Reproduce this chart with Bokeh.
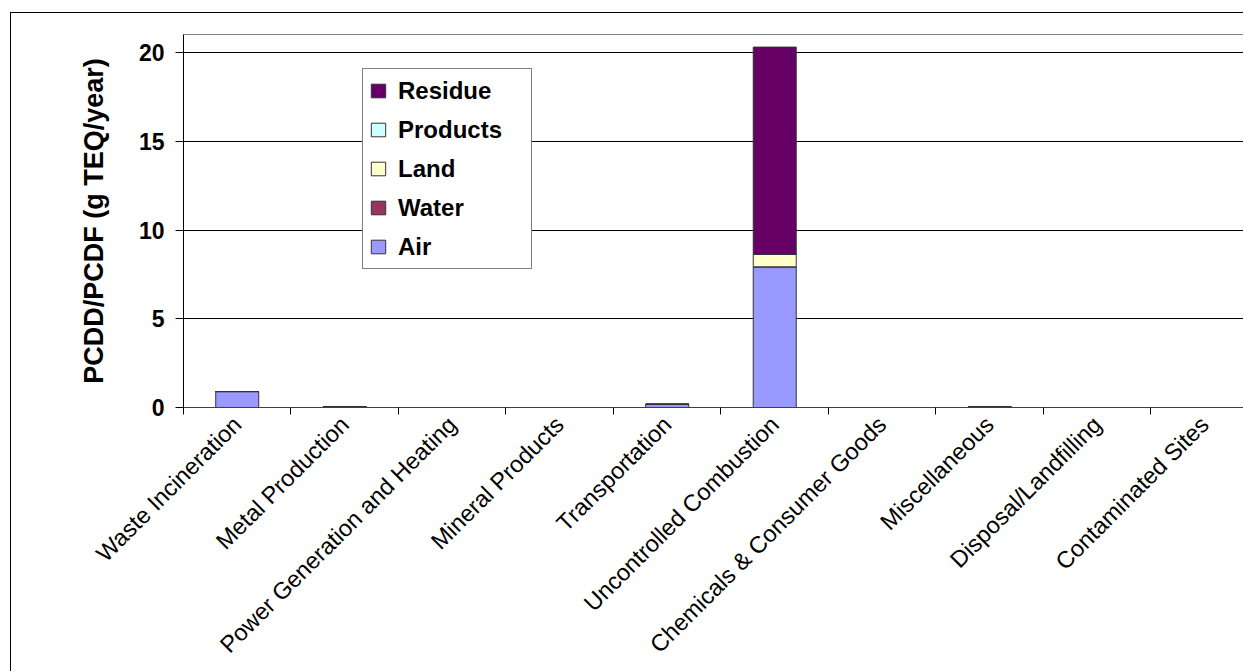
import math
from bokeh.plotting import figure
from bokeh.models import (Range1d, FixedTicker, Legend, LegendItem, ColumnDataSource)
from bokeh.embed import file_html
from bokeh.resources import INLINE

categories = ["Waste Incineration", "Metal Production", "Power Generation and Heating",
              "Mineral Products", "Transportation", "Uncontrolled Combustion",
              "Chemicals & Consumer Goods", "Miscellaneous", "Disposal/Landfilling",
              "Contaminated Sites"]
air      = [0.90, 0.03, 0.0, 0.0, 0.18, 7.93, 0.0, 0.03, 0.0, 0.0]
water    = [0.0, 0.0, 0.0, 0.0, 0.0, 0.0, 0.0, 0.0, 0.0, 0.0]
land     = [0.0, 0.0, 0.0, 0.0, 0.0, 0.70, 0.0, 0.0, 0.0, 0.0]
products = [0.0, 0.0, 0.0, 0.0, 0.0, 0.0, 0.0, 0.0, 0.0, 0.0]
residue  = [0.0, 0.02, 0.0, 0.0, 0.0, 11.69, 0.0, 0.02, 0.0, 0.0]
y_ticks = [0, 5, 10, 15, 20]

series = ["Air", "Water", "Land", "Products", "Residue"]
colors = ["#9999FF", "#993366", "#FFFFCC", "#CCFFFF", "#660066"]

xs = list(range(len(categories)))
src = ColumnDataSource(dict(x=xs, Air=air, Water=water, Land=land,
                            Products=products, Residue=residue))

FONT = "Liberation Sans"

p = figure(width=1233, height=659, output_backend="svg", toolbar_location=None,
           x_range=Range1d(-0.5, len(categories) - 0.63), y_range=Range1d(0, 21.03),
           min_border_left=172, min_border_top=21, min_border_right=0,
           min_border_bottom=265, background_fill_color="white",
           border_fill_color="white", outline_line_color="#808080",
           margin=(12, 0, 0, 10))
p.styles = {"border-left": "1px solid #000000", "border-top": "1px solid #000000"}

renderers = p.vbar_stack(series, x="x", width=0.4, source=src, color=colors,
                         line_color="#333333", line_width=1)

# axes
p.xgrid.visible = False
p.ygrid.ticker = FixedTicker(ticks=y_ticks)
p.ygrid.grid_line_color = "#000000"
p.ygrid.grid_line_width = 1

yax = p.yaxis[0]
yax.ticker = FixedTicker(ticks=y_ticks)
yax.axis_line_color = "#000000"
yax.major_tick_out = 8
yax.major_tick_in = 0
yax.minor_tick_line_color = None
yax.major_label_standoff = 11
yax.major_label_text_font = FONT
yax.major_label_text_font_style = "bold"
yax.major_label_text_font_size = "23px"
yax.major_label_text_color = "#000000"
yax.axis_label = "PCDD/PCDF (g TEQ/year)"
yax.axis_label_text_font = FONT
yax.axis_label_text_font_style = "bold"
yax.axis_label_text_font_size = "27px"
yax.axis_label_text_color = "#000000"
yax.axis_label_standoff = 27

xax = p.xaxis[0]
xax.ticker = FixedTicker(ticks=xs, minor_ticks=[i - 0.5 for i in xs] + [len(xs) - 0.5])
xax.major_label_overrides = {i: c for i, c in zip(xs, categories)}
xax.major_label_orientation = math.pi / 4
xax.axis_line_color = "#404040"
xax.major_tick_out = 0
xax.major_tick_in = 0
xax.major_tick_line_color = None
xax.minor_tick_out = 7
xax.minor_tick_in = 0
xax.minor_tick_line_color = "#000000"
xax.major_label_standoff = 6
xax.major_label_text_font = FONT
xax.major_label_text_font_style = "normal"
xax.major_label_text_font_size = "23.5px"
xax.major_label_text_color = "#000000"

items = [LegendItem(label=s, renderers=[r]) for s, r in zip(series, renderers)]
legend = Legend(items=list(reversed(items)), location=(179, 138),
                border_line_color="#000000", border_line_width=1,
                background_fill_color="white", background_fill_alpha=1,
                label_text_font=FONT, label_text_font_style="bold",
                label_text_font_size="24px", label_text_color="#000000",
                glyph_width=18, glyph_height=17, label_standoff=11,
                label_height=31, label_width=127, spacing=8, padding=6, margin=0)
p.add_layout(legend, "center")

open("out.html", "w").write(file_html(p, INLINE))
